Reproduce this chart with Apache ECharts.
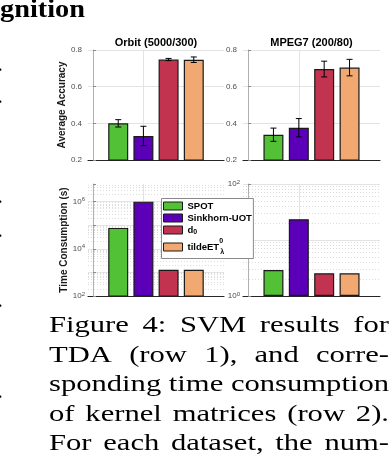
<!DOCTYPE html>
<html>
<head>
<meta charset="utf-8">
<script src="https://cdn.jsdelivr.net/npm/echarts@6.0.0/dist/echarts.min.js"></script>
<style>
html,body{margin:0;padding:0;background:#ffffff;overflow:hidden;}
#chart{width:390px;height:470px;}
</style>
</head>
<body>
<div id="chart"></div>
<script>
// ---------------- data ----------------
const methods = ['SPOT', 'Sinkhorn-UOT', 'd0', 'tildeET'];
const methodPositions = [1, 2, 3, 4];
const datasetTitles = ['Orbit (5000/300)', 'MPEG7 (200/80)'];
const orbitAccuracy = [0.400, 0.331, 0.748, 0.747];
const orbitAccuracyError = [0.020, 0.053, 0.006, 0.015];
const mpeg7Accuracy = [0.338, 0.376, 0.696, 0.704];
const mpeg7AccuracyError = [0.036, 0.050, 0.043, 0.045];
const orbitTimeSeconds = [7.7e4, 1.0e6, 1.3e3, 1.3e3];
const mpeg7TimeSeconds = [2.9, 23.5, 2.55, 2.55];
const accuracyRange = [0.2, 0.8];
const accuracyStep = 0.2;
const orbitTimeRange = [1e2, 5.6e6];
const mpeg7TimeRange = [1e0, 1e2];
const orbitTimeLabelExponents = [2, 4, 6];
const mpeg7TimeLabelExponents = [0, 2];
const accuracyAxisName = 'Average Accuracy';
const timeAxisName = 'Time Consumption (s)';
const headerText = 'gnition';
const captionLines = [
  'Figure 4: SVM results for',
  'TDA (row 1), and corre-',
  'sponding time consumption',
  'of kernel matrices (row 2).',
  'For each dataset, the num-'
];
const marginDots = ['.', '.', '.', '.', '.', '.'];

// ---------------- styles / layout ----------------
const COLORS = ['#52c135', '#5b00b8', '#c1334f', '#f2a971'];
const SANS = '"Liberation Sans", Arial, Helvetica, sans-serif';
const SERIF = '"Liberation Serif", "Times New Roman", serif';
const TICK_COLOR = '#4d4d4d';
const grids = [
  {left: 88, top: 50, width: 136, height: 110},
  {left: 243, top: 50, width: 137, height: 110},
  {left: 88, top: 184, width: 136, height: 112},
  {left: 243, top: 184, width: 137, height: 112}
];
const captionLeft = 49, captionRight = 389;
const captionBaselines = [333.5, 363, 392.5, 422, 451.5];
const captionFontSize = 24;
const headerFontSize = 26, headerBaseline = 19, headerWidth = 85;
const dotYs = [70, 102, 202, 236, 306, 397];

const measureCtx = document.createElement('canvas').getContext('2d');
function measure(text, font) { measureCtx.font = font; return measureCtx.measureText(text).width; }

// ---------------- axes ----------------
const xAxes = grids.map((g, i) => ({
  type: 'value', gridIndex: i, min: -0.2, max: 5.2,
  axisLine: {show: true, onZero: false, lineStyle: {color: '#262626', width: 1.2}},
  axisTick: {show: false}, axisLabel: {show: false}, splitLine: {show: false}
}));

const yNameStyle = {fontFamily: SANS, fontSize: 10, fontWeight: 'bold', color: '#1a1a1a'};
const commonY = {
  axisLine: {show: true, lineStyle: {color: '#b0b0b0', width: 1}},
  axisTick: {show: true, inside: true, length: 3, lineStyle: {color: '#8c8c8c'}},
  nameLocation: 'middle', nameTextStyle: yNameStyle
};
function accuracyAxis(gi, withName) {
  return Object.assign({}, commonY, {
    type: 'value', gridIndex: gi, min: accuracyRange[0], max: accuracyRange[1], interval: accuracyStep,
    axisLabel: {fontSize: 8, color: TICK_COLOR, margin: 6, fontFamily: SANS, formatter: v => v.toFixed(1)},
    splitLine: {show: true, lineStyle: {color: '#e3e3e3', width: 1}},
    name: withName ? accuracyAxisName : '', nameGap: 18
  });
}
function timeAxis(gi, range, exps, withName) {
  return Object.assign({}, commonY, {
    type: 'log', logBase: 10, gridIndex: gi, min: range[0], max: range[1],
    axisLabel: {
      margin: 3,
      formatter: v => {
        const l = Math.log10(v), e = Math.round(l);
        return (Math.abs(l - e) < 1e-6 && exps.includes(e)) ? '{b|10}{s|' + e + '}' : '';
      },
      rich: {
        b: {fontSize: 8, color: TICK_COLOR, fontFamily: SANS, lineHeight: 10},
        s: {fontSize: 6, color: TICK_COLOR, fontFamily: SANS, lineHeight: 6, verticalAlign: 'top'}
      }
    },
    splitLine: {show: false},
    name: withName ? timeAxisName : '', nameGap: 18
  });
}
const yAxes = [
  accuracyAxis(0, true),
  accuracyAxis(1, false),
  timeAxis(2, orbitTimeRange, orbitTimeLabelExponents, true),
  timeAxis(3, mpeg7TimeRange, mpeg7TimeLabelExponents, false)
];

// ---------------- series ----------------
const panels = [
  {values: orbitAccuracy, errors: orbitAccuracyError, log: false},
  {values: mpeg7Accuracy, errors: mpeg7AccuracyError, log: false},
  {values: orbitTimeSeconds, log: true, range: orbitTimeRange},
  {values: mpeg7TimeSeconds, log: true, range: mpeg7TimeRange}
];
const series = [];
panels.forEach((p, gi) => {
  const gridLines = [{xAxis: 2, lineStyle: {color: '#e3e3e3', type: 'solid', width: 1}}];
  if (p.log) {
    const lo = Math.round(Math.log10(p.range[0])), hi = Math.log10(p.range[1]);
    for (let k = lo; k <= Math.floor(hi); k++) {
      if (k > lo) gridLines.push({yAxis: Math.pow(10, k), lineStyle: {color: '#e3e3e3', type: 'solid', width: 1}});
      for (let m = 2; m <= 9; m++) {
        const v = m * Math.pow(10, k);
        if (Math.log10(v) < hi) gridLines.push({yAxis: v, lineStyle: {color: '#dcdcdc', type: [1, 2], width: 1}});
      }
    }
  }
  series.push({
    type: 'line', xAxisIndex: gi, yAxisIndex: gi, data: [], silent: true, z: 0,
    markLine: {silent: true, symbol: ['none', 'none'], label: {show: false}, z: 0, animation: false, data: gridLines}
  });
  methods.forEach((m, i) => {
    series.push({
      type: 'bar', name: m, xAxisIndex: gi, yAxisIndex: gi,
      data: [[methodPositions[i], p.values[i]]],
      barWidth: 20, barGap: '-100%', z: 2,
      itemStyle: {color: COLORS[i], borderColor: '#1a1a1a', borderWidth: 1.2}
    });
  });
  if (p.errors) {
    series.push({
      type: 'custom', xAxisIndex: gi, yAxisIndex: gi, z: 3, silent: true,
      encode: {x: 0, y: 1},
      data: p.values.map((v, i) => [methodPositions[i], v, p.errors[i]]),
      renderItem: (params, api) => {
        const x = api.value(0), y = api.value(1), e = api.value(2);
        const top = api.coord([x, y + e]), bot = api.coord([x, y - e]);
        const cw = 3, st = {stroke: '#000', lineWidth: 1};
        return {type: 'group', children: [
          {type: 'line', shape: {x1: top[0], y1: top[1], x2: bot[0], y2: bot[1]}, style: st},
          {type: 'line', shape: {x1: top[0] - cw, y1: top[1], x2: top[0] + cw, y2: top[1]}, style: st},
          {type: 'line', shape: {x1: bot[0] - cw, y1: bot[1], x2: bot[0] + cw, y2: bot[1]}, style: st}
        ]};
      }
    });
  }
});

// ---------------- text graphics ----------------
const graphics = [];
// header
{
  const font = 'bold ' + headerFontSize + 'px ' + SERIF;
  const w = measure(headerText, font);
  graphics.push({
    type: 'text', x: 0, y: headerBaseline - 0.32 * headerFontSize, scaleX: headerWidth / w, silent: true,
    style: {text: headerText, x: 0, y: 0, font: font, fill: '#000', textAlign: 'left', textVerticalAlign: 'middle', align: 'left', verticalAlign: 'middle'}
  });
}
// caption (justified)
{
  const font = captionFontSize + 'px ' + SERIF;
  const W = captionRight - captionLeft;
  const sx = Math.min.apply(null, captionLines.map(l => W / measure(l, font)));
  captionLines.forEach((line, li) => {
    const words = line.split(' ');
    const widths = words.map(w => measure(w, font) * sx);
    const total = widths.reduce((a, b) => a + b, 0);
    const gap = (W - total) / (words.length - 1);
    let x = captionLeft;
    words.forEach((w, wi) => {
      graphics.push({
        type: 'text', x: x, y: captionBaselines[li] - 0.32 * captionFontSize, scaleX: sx, silent: true,
        style: {text: w, x: 0, y: 0, font: font, fill: '#000', textAlign: 'left', textVerticalAlign: 'middle', align: 'left', verticalAlign: 'middle'}
      });
      x += widths[wi] + gap;
    });
  });
}
// cut-off periods of the neighbouring column
marginDots.forEach((d, i) => {
  graphics.push({
    type: 'text', x: 3, y: dotYs[i] - 0.2 * captionFontSize, silent: true,
    style: {text: d, x: 0, y: 0, font: captionFontSize + 'px ' + SERIF, fill: '#000', textAlign: 'right', textVerticalAlign: 'middle', align: 'right', verticalAlign: 'middle'}
  });
});

// ---------------- chart ----------------
const legendRich = {
  n: {fontFamily: SANS, fontSize: 9.5, fontWeight: 'bold', color: '#000', lineHeight: 10},
  d: {fontFamily: SANS, fontSize: 9.5, fontWeight: 'bold', color: '#000', lineHeight: 12},
  dsub: {fontFamily: SANS, fontSize: 7, fontWeight: 'bold', color: '#000', lineHeight: 6, verticalAlign: 'bottom'},
  t: {fontFamily: SANS, fontSize: 9.5, fontWeight: 'bold', color: '#000', lineHeight: 18},
  tsup: {fontFamily: SANS, fontSize: 7, fontWeight: 'bold', color: '#000', lineHeight: 6, verticalAlign: 'top', width: 1},
  tsub: {fontFamily: SANS, fontSize: 7, fontWeight: 'bold', color: '#000', lineHeight: 6, verticalAlign: 'bottom'}
};

const chart = echarts.init(document.getElementById('chart'), null, {renderer: 'canvas'});
chart.setOption({
  animation: false,
  backgroundColor: '#ffffff',
  title: datasetTitles.map((t, i) => ({
    text: t, left: grids[i].left + grids[i].width / 2, top: 37, textAlign: 'center', padding: 0,
    textStyle: {fontFamily: SANS, fontSize: 11, fontWeight: 'bold', color: '#000'}
  })),
  grid: grids.map(g => Object.assign({containLabel: false}, g)),
  xAxis: xAxes,
  yAxis: yAxes,
  legend: {
    orient: 'vertical', left: 161.5, top: 198.5, padding: [2.5, 1.5, 2.5, 1.5],
    itemGap: 2, itemWidth: 19, itemHeight: 8, icon: 'rect', selectedMode: false,
    backgroundColor: '#ffffff', borderColor: '#8a8a8a', borderWidth: 1,
    itemStyle: {borderColor: '#1a1a1a', borderWidth: 1},
    data: methods,
    formatter: name => {
      if (name === 'd0') return '{d|d}{dsub|0}';
      if (name === 'tildeET') return '{t|tildeET}{tsup|0}{tsub|λ}';
      return '{n|' + name + '}';
    },
    textStyle: {fontFamily: SANS, fontSize: 9.5, fontWeight: 'bold', color: '#000', rich: legendRich}
  },
  graphic: graphics,
  series: series
});
</script>
</body>
</html>
